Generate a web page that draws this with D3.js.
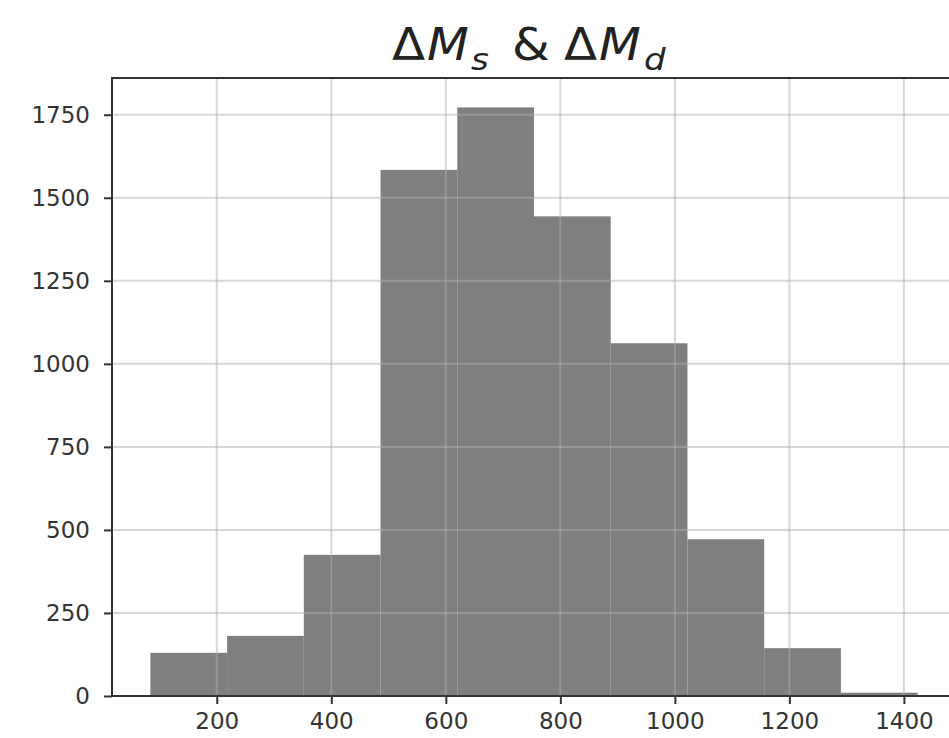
<!DOCTYPE html>
<html>
<head>
<meta charset="utf-8">
<script src="https://cdn.jsdelivr.net/npm/d3@7"></script>
<style>
  html, body { margin: 0; padding: 0; background: #ffffff; }
  svg { display: block; }
  text { font-family: "DejaVu Sans", sans-serif; }
</style>
</head>
<body>
<script>
// Histogram bin edges and counts
const binEdges = [84, 218, 352, 486, 620, 754, 888, 1022, 1156, 1290, 1424];
const counts = [130, 181, 425, 1584, 1772, 1444, 1062, 472, 144, 10];
const xTicks = [200, 400, 600, 800, 1000, 1200, 1400];
const yTicks = [0, 250, 500, 750, 1000, 1250, 1500, 1750];

const W = 949, H = 738;
const plot = { left: 112, right: 956, top: 78, bottom: 696 };

const bins = counts.map((c, i) => ({ x0: binEdges[i], x1: binEdges[i + 1], count: c }));

// 5% padding around the data range on x, and above the tallest bar on y
const span = binEdges[binEdges.length - 1] - binEdges[0];
const x = d3.scaleLinear()
  .domain([binEdges[0] - 0.05 * span, binEdges[binEdges.length - 1] + 0.05 * span])
  .range([plot.left, plot.right]);
const y = d3.scaleLinear()
  .domain([0, d3.max(counts) * 1.05])
  .range([plot.bottom, plot.top]);

const svg = d3.select("body").append("svg")
  .attr("width", W).attr("height", H);

const defs = svg.append("defs");
defs.append("clipPath").attr("id", "plotClip")
  .append("rect")
  .attr("x", plot.left).attr("y", plot.top)
  .attr("width", plot.right - plot.left).attr("height", plot.bottom - plot.top);

// Bars
svg.append("g").attr("clip-path", "url(#plotClip)")
  .selectAll("rect").data(bins).join("rect")
  .attr("x", d => x(d.x0))
  .attr("y", d => y(d.count))
  .attr("width", d => x(d.x1) - x(d.x0))
  .attr("height", d => y(0) - y(d.count))
  .attr("fill", "#7f7f7f");

// Grid lines drawn over the bars
const grid = svg.append("g").attr("clip-path", "url(#plotClip)")
  .attr("stroke", "#b0b0b0").attr("stroke-opacity", 0.5).attr("stroke-width", 2);
grid.selectAll("line.vx").data(xTicks).join("line")
  .attr("class", "vx")
  .attr("x1", d => x(d)).attr("x2", d => x(d))
  .attr("y1", plot.top).attr("y2", plot.bottom);
grid.selectAll("line.hy").data(yTicks).join("line")
  .attr("class", "hy")
  .attr("x1", plot.left).attr("x2", plot.right)
  .attr("y1", d => y(d)).attr("y2", d => y(d));

// Axes
const xAxis = d3.axisBottom(x).tickValues(xTicks).tickSize(8).tickPadding(9).tickFormat(d3.format("d"));
const yAxis = d3.axisLeft(y).tickValues(yTicks).tickSize(8).tickPadding(14).tickFormat(d3.format("d"));

const gx = svg.append("g").attr("transform", `translate(0,${plot.bottom})`).call(xAxis);
const gy = svg.append("g").attr("transform", `translate(${plot.left},0)`).call(yAxis);

[gx, gy].forEach(g => {
  g.select(".domain").remove();
  g.selectAll(".tick line").attr("stroke", "#333").attr("stroke-width", 2);
  g.selectAll(".tick text")
    .attr("fill", "#333")
    .style("font-family", "'DejaVu Sans', sans-serif")
    .style("font-size", "23px");
});

// Frame
svg.append("rect")
  .attr("x", plot.left).attr("y", plot.top)
  .attr("width", plot.right - plot.left).attr("height", plot.bottom - plot.top)
  .attr("fill", "none").attr("stroke", "#333").attr("stroke-width", 2);

// Title: ΔM_s & ΔM_d, laid out piece by piece like math text
const titleParts = [
  { t: "Δ", x: 392, italic: false, sub: false },
  { t: "M", x: 427, italic: true, sub: false },
  { t: "s", x: 471, italic: true, sub: true },
  { t: "&", x: 512, italic: false, sub: false },
  { t: "Δ", x: 564, italic: false, sub: false },
  { t: "M", x: 599, italic: true, sub: false },
  { t: "d", x: 644, italic: true, sub: true }
];
svg.append("g").selectAll("text").data(titleParts).join("text")
  .attr("transform", d => `translate(${d.x},${d.sub ? 70 : 60}) scale(1.1,1)`)
  .attr("fill", "#222")
  .style("font-style", d => d.italic ? "italic" : "normal")
  .style("font-size", d => d.sub ? "31px" : "44px")
  .text(d => d.t);
</script>
</body>
</html>
